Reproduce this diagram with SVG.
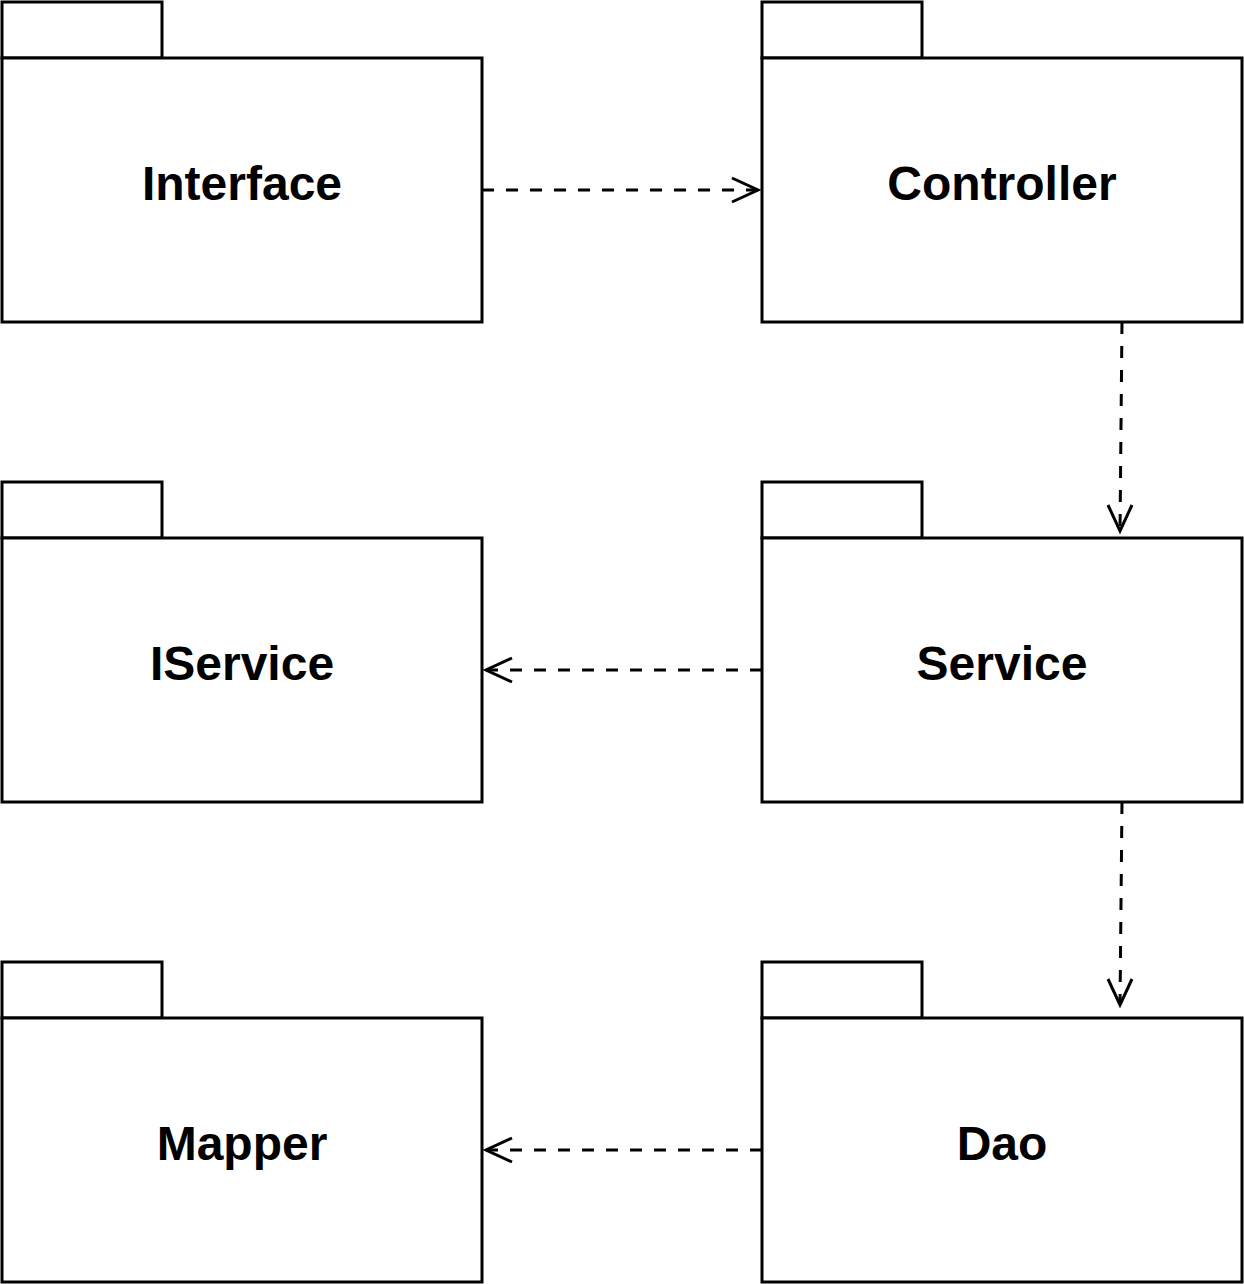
<svg xmlns="http://www.w3.org/2000/svg" width="1244" height="1284" viewBox="0 0 1244 1284">
<style>
.pk{fill:#fff;stroke:#000;stroke-width:3}
.lb{font-family:"Liberation Sans",Arial,sans-serif;font-weight:bold;font-size:48px;text-anchor:middle;fill:#000}
.dep{fill:none;stroke:#000;stroke-width:3;stroke-dasharray:12 12}
.head{fill:none;stroke:#000;stroke-width:3}
</style>
<rect width="1244" height="1284" fill="#fff"/>
<g id="interface"><rect class="pk" x="2" y="2" width="160" height="56"/><rect class="pk" x="2" y="58" width="480" height="264"/><text class="lb" x="242" y="200">Interface</text></g>
<g id="controller"><rect class="pk" x="762" y="2" width="160" height="56"/><rect class="pk" x="762" y="58" width="480" height="264"/><text class="lb" x="1002" y="200">Controller</text></g>
<g id="iservice"><rect class="pk" x="2" y="482" width="160" height="56"/><rect class="pk" x="2" y="538" width="480" height="264"/><text class="lb" x="242" y="680">IService</text></g>
<g id="service"><rect class="pk" x="762" y="482" width="160" height="56"/><rect class="pk" x="762" y="538" width="480" height="264"/><text class="lb" x="1002" y="680">Service</text></g>
<g id="mapper"><rect class="pk" x="2" y="962" width="160" height="56"/><rect class="pk" x="2" y="1018" width="480" height="264"/><text class="lb" x="242" y="1160">Mapper</text></g>
<g id="dao"><rect class="pk" x="762" y="962" width="160" height="56"/><rect class="pk" x="762" y="1018" width="480" height="264"/><text class="lb" x="1002" y="1160">Dao</text></g>
<g id="connectors">
<path class="dep" d="M482 190 H758"/><path class="head" d="M732 178 L758 190 L732 202"/>
<path class="dep" d="M1122 322 L1120 531"/><path class="head" d="M1108 505 L1120 531 L1132 505"/>
<path class="dep" d="M762 670 H486"/><path class="head" d="M512 658 L486 670 L512 682"/>
<path class="dep" d="M1122 802 L1120 1005"/><path class="head" d="M1108 979 L1120 1005 L1132 979"/>
<path class="dep" d="M762 1150 H486"/><path class="head" d="M512 1138 L486 1150 L512 1162"/>
</g>
</svg>
